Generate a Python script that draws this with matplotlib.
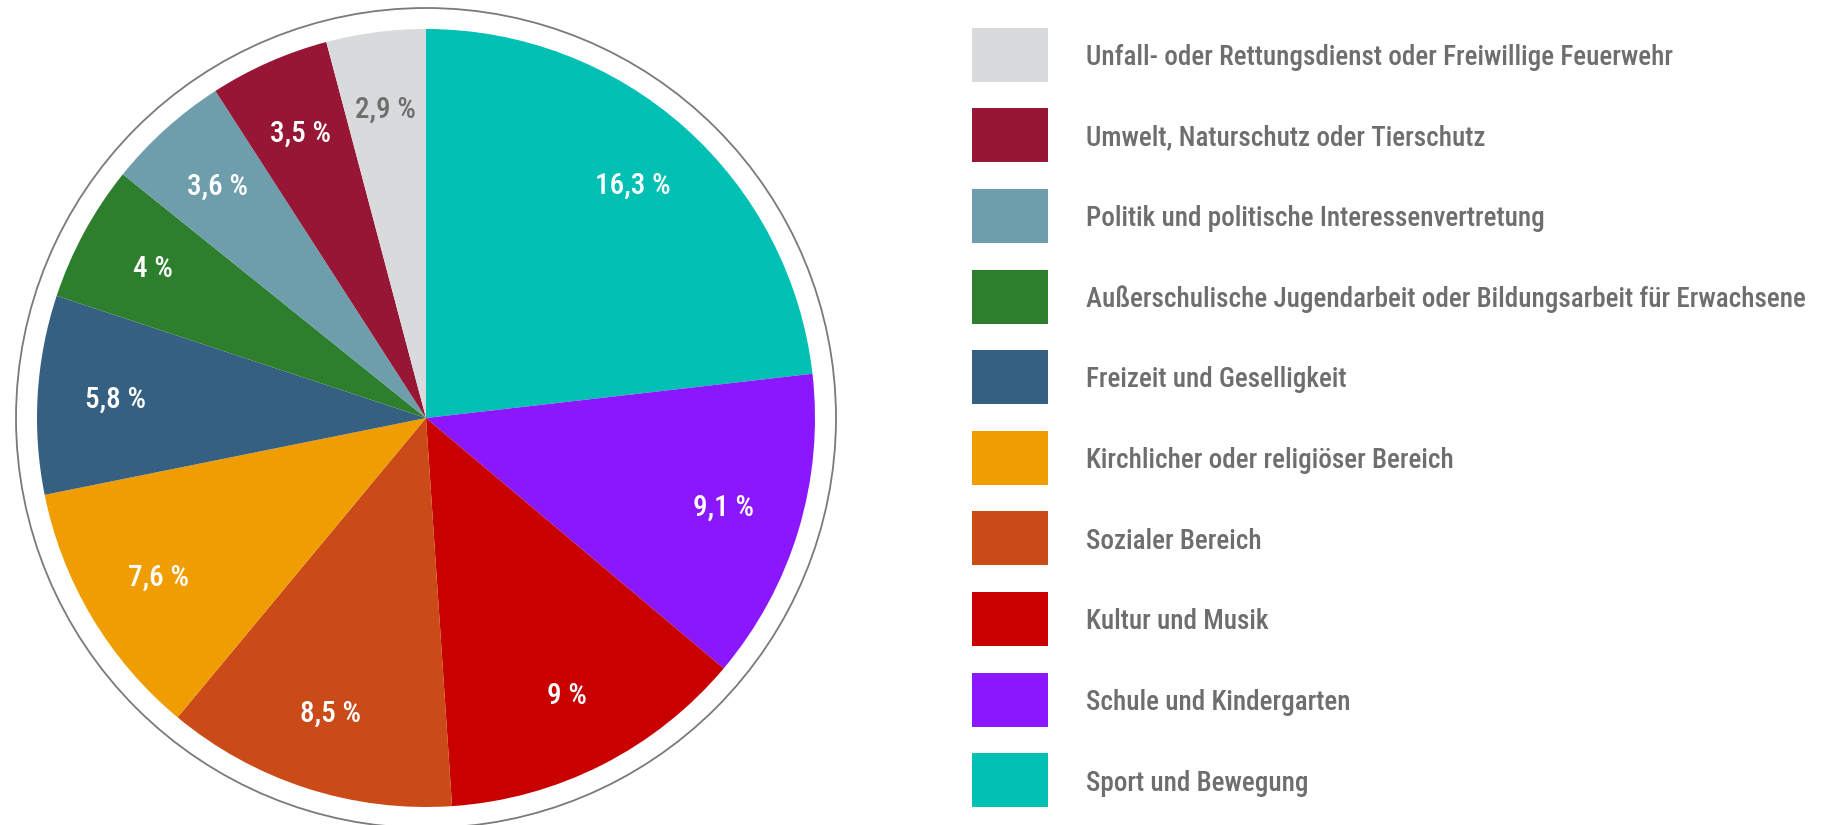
import matplotlib
matplotlib.use("Agg")
import matplotlib.pyplot as plt
from matplotlib import font_manager
from matplotlib.patches import Circle

# ---- data (clockwise from 12 o'clock) ----
categories = [
    "Sport und Bewegung",
    "Schule und Kindergarten",
    "Kultur und Musik",
    "Sozialer Bereich",
    "Kirchlicher oder religiöser Bereich",
    "Freizeit und Geselligkeit",
    "Außerschulische Jugendarbeit oder Bildungsarbeit für Erwachsene",
    "Politik und politische Interessenvertretung",
    "Umwelt, Naturschutz oder Tierschutz",
    "Unfall- oder Rettungsdienst oder Freiwillige Feuerwehr",
]
values = [16.3, 9.1, 9.0, 8.5, 7.6, 5.8, 4.0, 3.6, 3.5, 2.9]
value_labels = ["16,3 %", "9,1 %", "9 %", "8,5 %", "7,6 %", "5,8 %", "4 %", "3,6 %", "3,5 %", "2,9 %"]
colors = ["#00BFB3", "#8B17FF", "#C80000", "#CA4A18", "#EF9D00",
          "#356082", "#2D7F2D", "#6E9DAC", "#971535", "#D9DADC"]
label_colors = ["white"] * 9 + ["#6F6F6F"]

# ---- font ----
avail = {f.name for f in font_manager.fontManager.ttflist}
family = "Liberation Sans"
for cand in ["Roboto Condensed", "Liberation Sans Narrow", "Arial Narrow", "Liberation Sans"]:
    if cand in avail:
        family = cand
        break

W, H = 1821, 825
fig = plt.figure(figsize=(W / 100, H / 100), dpi=100)
fig.patch.set_facecolor("white")

# pie axes (square in pixels)
cx, cy, R = 426, 825 - 418, 389
lim = 1.1
side = 2 * lim * R
ax = fig.add_axes([(cx - side / 2) / W, (cy - side / 2) / H, side / W, side / H])

wedges, texts = ax.pie(values, colors=colors, startangle=90, counterclock=False,
                       radius=1.0, labels=value_labels, labeldistance=0.8,
                       wedgeprops=dict(linewidth=0), frame=False)
ax.set_xlim(-lim, lim)
ax.set_ylim(-lim, lim)
ax.set_aspect("auto")
ax.axis("off")
for t, c in zip(texts, label_colors):
    t.set_color(c)
    t.set_fontfamily(family)
    t.set_fontsize(21)
    t.set_fontweight(500)
    t.set_ha("center")
    t.set_va("center")
ax.add_patch(Circle((0, 0), 410 / 389, fill=False, edgecolor="#7A7A7A", linewidth=1.3))

# legend axes (manual, reversed order)
leg_left, leg_right = 972, W
row_h = 80.65
top0 = 54.6 - row_h / 2
n = len(categories)
lax = fig.add_axes([leg_left / W, (H - (top0 + n * row_h)) / H, (leg_right - leg_left) / W, n * row_h / H])
lax.set_xlim(0, leg_right - leg_left)
lax.set_ylim(n - 0.5, -0.5)
lax.axis("off")
order = list(range(n))[::-1]
ypos = list(range(n))
lax.barh(ypos, [76] * n, left=0, height=54 / row_h, color=[colors[i] for i in order], linewidth=0)
for y, i in zip(ypos, order):
    lax.text(114, y + 0.125, categories[i], ha="left", va="baseline",
             fontsize=19.5, fontweight=500, color="#6E6E6E", fontfamily=family)

fig.savefig("out.png", dpi=100, facecolor="white")
